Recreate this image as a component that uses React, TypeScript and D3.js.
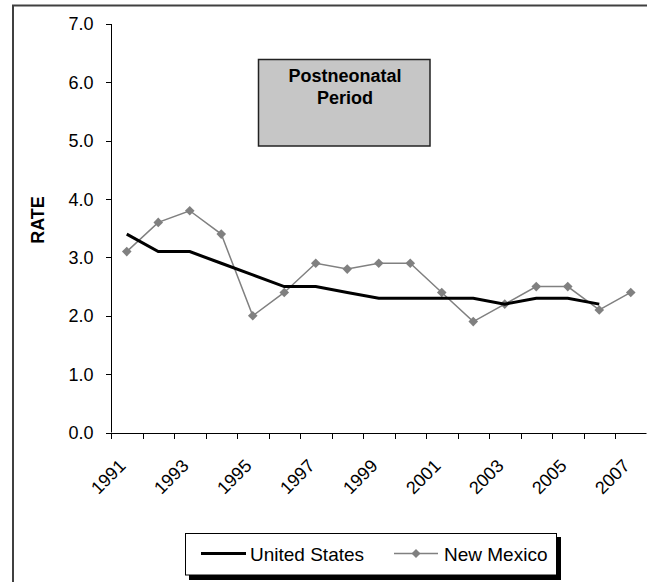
import React from "react";
import * as d3 from "d3";

const years = ["1991","1992","1993","1994","1995","1996","1997","1998","1999","2000","2001","2002","2003","2004","2005","2006","2007"];
const usValues: (number | null)[] = [3.4,3.1,3.1,2.9,2.7,2.5,2.5,2.4,2.3,2.3,2.3,2.3,2.2,2.3,2.3,2.2,null];
const nmValues: (number | null)[] = [3.1,3.6,3.8,3.4,2.0,2.4,2.9,2.8,2.9,2.9,2.4,1.9,2.2,2.5,2.5,2.1,2.4];
const yTicks = [0,1,2,3,4,5,6,7];
const xLabelYears = ["1991","1993","1995","1997","1999","2001","2003","2005","2007"];
const seriesNames = ["United States", "New Mexico"];
const titleLines = ["Postneonatal", "Period"];
const yTitle = "RATE";

const W = 647, H = 582;
const FONT = "'Liberation Sans', Arial, Helvetica, sans-serif";

export default function App() {
  const x = d3.scaleBand<string>().domain(years).range([111, 646.5]).padding(0);
  const y = d3.scaleLinear().domain([0, 7]).range([432.5, 24]);
  const cx = (yr: string) => (x(yr) as number) + x.bandwidth() / 2;

  const line = d3.line<[string, number | null]>()
    .defined(d => d[1] != null)
    .x(d => cx(d[0]))
    .y(d => y(d[1] as number));

  const usData = years.map((yr, i) => [yr, usValues[i]] as [string, number | null]);
  const nmData = years.map((yr, i) => [yr, nmValues[i]] as [string, number | null]);

  const diamond = (px: number, py: number, r: number) =>
    `M${px},${py - r}L${px + r},${py}L${px},${py + r}L${px - r},${py}Z`;

  const boundaries = years.map(yr => x(yr) as number).concat([x.range()[1]]);
  const x0 = x.range()[0];
  const y0 = y(0);

  return (
    <svg width={W} height={H} style={{ position: "absolute", left: 0, top: 0, background: "#fff" }} fontFamily={FONT}>
      <rect x={0} y={0} width={W} height={H} fill="#fff" />
      {/* outer chart border (extends beyond view) */}
      <rect x={13} y={5.5} width={W + 20} height={H + 20} fill="none" stroke="#404040" strokeWidth={2} />

      {/* title box */}
      <rect x={258.5} y={59.5} width={171.5} height={86.5} fill="#c6c6c6" stroke="#222" strokeWidth={1.5} />
      {titleLines.map((t, i) => (
        <text key={t} x={345} y={82 + i * 22} textAnchor="middle" fontSize={18} fontWeight="bold" fill="#000">{t}</text>
      ))}

      {/* y axis */}
      <line x1={x0 + 0.5} x2={x0 + 0.5} y1={y(7)} y2={y0} stroke="#000" strokeWidth={1} />
      {yTicks.map(t => (
        <g key={t}>
          <line x1={x0 - 5} x2={x0 + 0.5} y1={Math.round(y(t)) + 0.5} y2={Math.round(y(t)) + 0.5} stroke="#000" />
          <text x={93.5} y={y(t)} dy="0.36em" textAnchor="end" fontSize={18} fill="#000">{t.toFixed(1)}</text>
        </g>
      ))}
      <text transform={`translate(44,220) rotate(-90)`} textAnchor="middle" fontSize={18} fontWeight="bold" fill="#000">{yTitle}</text>

      {/* x axis */}
      <line x1={x0} x2={x.range()[1]} y1={Math.round(y0) + 0.5} y2={Math.round(y0) + 0.5} stroke="#000" />
      {boundaries.map((b, i) => (
        <line key={i} x1={Math.round(b) + 0.5} x2={Math.round(b) + 0.5} y1={Math.round(y0)} y2={Math.round(y0) + 6} stroke="#000" />
      ))}
      {xLabelYears.map(yr => (
        <text key={yr} transform={`translate(${cx(yr)},467) rotate(-45)`} textAnchor="end" fontSize={18} fill="#000">{yr}</text>
      ))}

      {/* series */}
      <path d={line(nmData) || ""} fill="none" stroke="#808080" strokeWidth={1.5} />
      {nmData.filter(d => d[1] != null).map(d => (
        <path key={d[0]} d={diamond(cx(d[0]), y(d[1] as number), 4.8)} fill="#808080" />
      ))}
      <path d={line(usData) || ""} fill="none" stroke="#000" strokeWidth={3} />

      {/* legend */}
      <rect x={189} y={537} width={372} height={43} fill="#000" />
      <rect x={185.5} y={533.5} width={371} height={41.5} fill="#fff" stroke="#000" strokeWidth={1} />
      <line x1={201} x2={246} y1={553.5} y2={553.5} stroke="#000" strokeWidth={3} />
      <text x={250} y={560.5} fontSize={19} fill="#000">{seriesNames[0]}</text>
      <line x1={394} x2={438} y1={553.5} y2={553.5} stroke="#808080" strokeWidth={1.5} />
      <path d={diamond(416, 553.5, 4.5)} fill="#808080" />
      <text x={444} y={560.5} fontSize={19} fill="#000">{seriesNames[1]}</text>
    </svg>
  );
}
